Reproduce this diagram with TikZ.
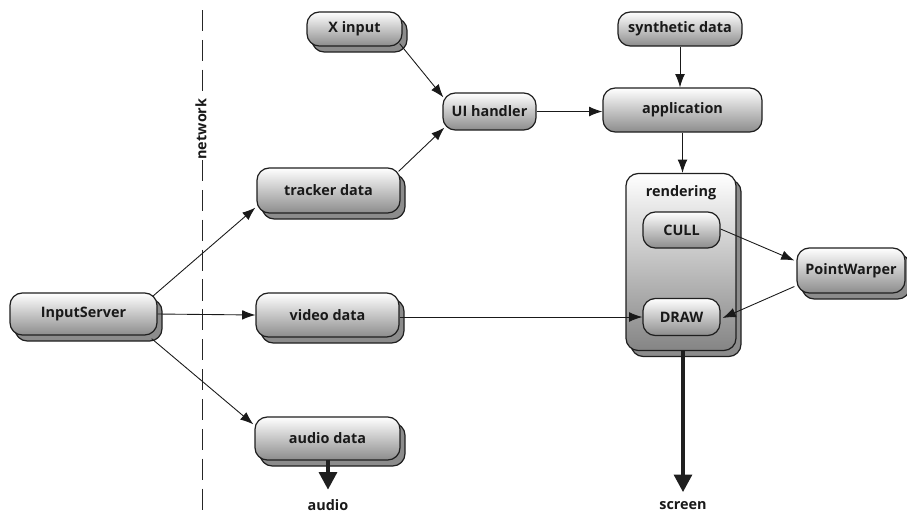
\documentclass[tikz,border=0pt]{standalone}
\usepackage{fontspec}
\setmainfont{Open Sans}
\usetikzlibrary{arrows.meta,shadows,calc}
\begin{document}
\begin{tikzpicture}[x=0.02cm,y=-0.02cm,
  txt/.style={font=\bfseries\fontsize{8.2}{10}\selectfont, text=black!90},
  box/.style={txt, draw=black!88, line width=0.7pt, rounded corners=7pt, top color=white, bottom color=black!45, inner sep=0pt, align=center},
  shbox/.style={box, general shadow={shadow xshift=0.1cm, shadow yshift=-0.12cm, fill=black!45, draw=black!88, line width=0.7pt}},
  wh/.style 2 args={minimum width=#1*0.02cm, minimum height=#2*0.02cm},
  arr/.style={-{Latex[length=7.5pt,width=5.5pt]}, line width=0.5pt, black!90},
  bigarr/.style={-{Triangle[length=10pt,width=10pt]}, line width=2.3pt, black!88},
]
\useasboundingbox (0,0) rectangle (907,515);

% network line
\coordinate (n1) at (202,10);
\coordinate (n2) at (202,97);
\coordinate (n3) at (202,160);
\coordinate (n4) at (202,512);
\draw[black!85, line width=0.5pt, dash pattern=on 12pt off 5pt] (n1) -- (n2);
\draw[black!85, line width=0.5pt, dash pattern=on 12pt off 5pt] (n3) -- (n4);
\node[txt, rotate=90] (net) at (201,129) {network};

% nodes
\node[shbox, wh={147}{42}] (is) at (83.5,314) {InputServer};
\node[shbox, wh={143}{45}] (tr) at (328.5,190.5) {tracker data};
\node[shbox, wh={143}{44}] (vd) at (327.5,315) {video data};
\node[shbox, wh={145}{43}] (au) at (327.5,438.5) {audio data};
\node[shbox, wh={95}{34}] (xi) at (354.5,29) {X input};
\node[box, wh={93}{37}] (ui) at (489.5,111.5) {UI handler};
\node[box, wh={124}{34}] (syn) at (680,29) {synthetic data};
\node[box, wh={159}{44}] (app) at (682.5,110) {application};
\node[shbox, wh={110}{177}, bottom color=black!48] (rend) at (681,262) {};
\node[txt] (rlab) at (681,193) {rendering};
\node[box, wh={77}{36}] (cull) at (681.5,230) {CULL};
\node[box, wh={77}{37}] (drw) at (681.5,317) {DRAW};
\node[shbox, wh={108}{45}] (pw) at (851,270.5) {PointWarper};

% labels
\node[txt] (audio) at (328,505) {audio};
\node[txt] (screen) at (683,506) {screen};

% connectors
\draw[arr] ([shift={(-5,4)}]is.north east) -- ([shift={(-1,-6)}]tr.south west);
\draw[arr] (is.east) -- (vd.west);
\draw[arr] ([shift={(-6,3)}]is.south east) -- ([shift={(-1,8)}]au.north west);
\draw[arr] ([shift={(-2,4)}]tr.north east) -- ([shift={(2,-3)}]ui.south west);
\draw[arr] ([shift={(-3,-3)}]xi.south east) -- ([shift={(1,5)}]ui.north west);
\draw[arr] (ui.east) -- (ui.east -| app.west);
\draw[arr] (syn.south) -- (syn.south |- app.north);
\draw[arr] (app.south) -- (app.south |- rend.north);
\draw[arr] (vd.east |- drw.west) -- (drw.west);
\draw[arr] ([shift={(0,-1)}]cull.east) -- ([shift={(-2,-10)}]pw.west);
\draw[arr] ([shift={(-2,16)}]pw.west) -- ([shift={(2,1)}]drw.east);
\draw[bigarr] ([yshift=0.5pt]rend.south -| screen) -- ([yshift=2pt]screen.north);
\draw[bigarr] ([yshift=0.5pt]au.south -| audio) -- ([yshift=2pt]audio.north);
\end{tikzpicture}
\end{document}
